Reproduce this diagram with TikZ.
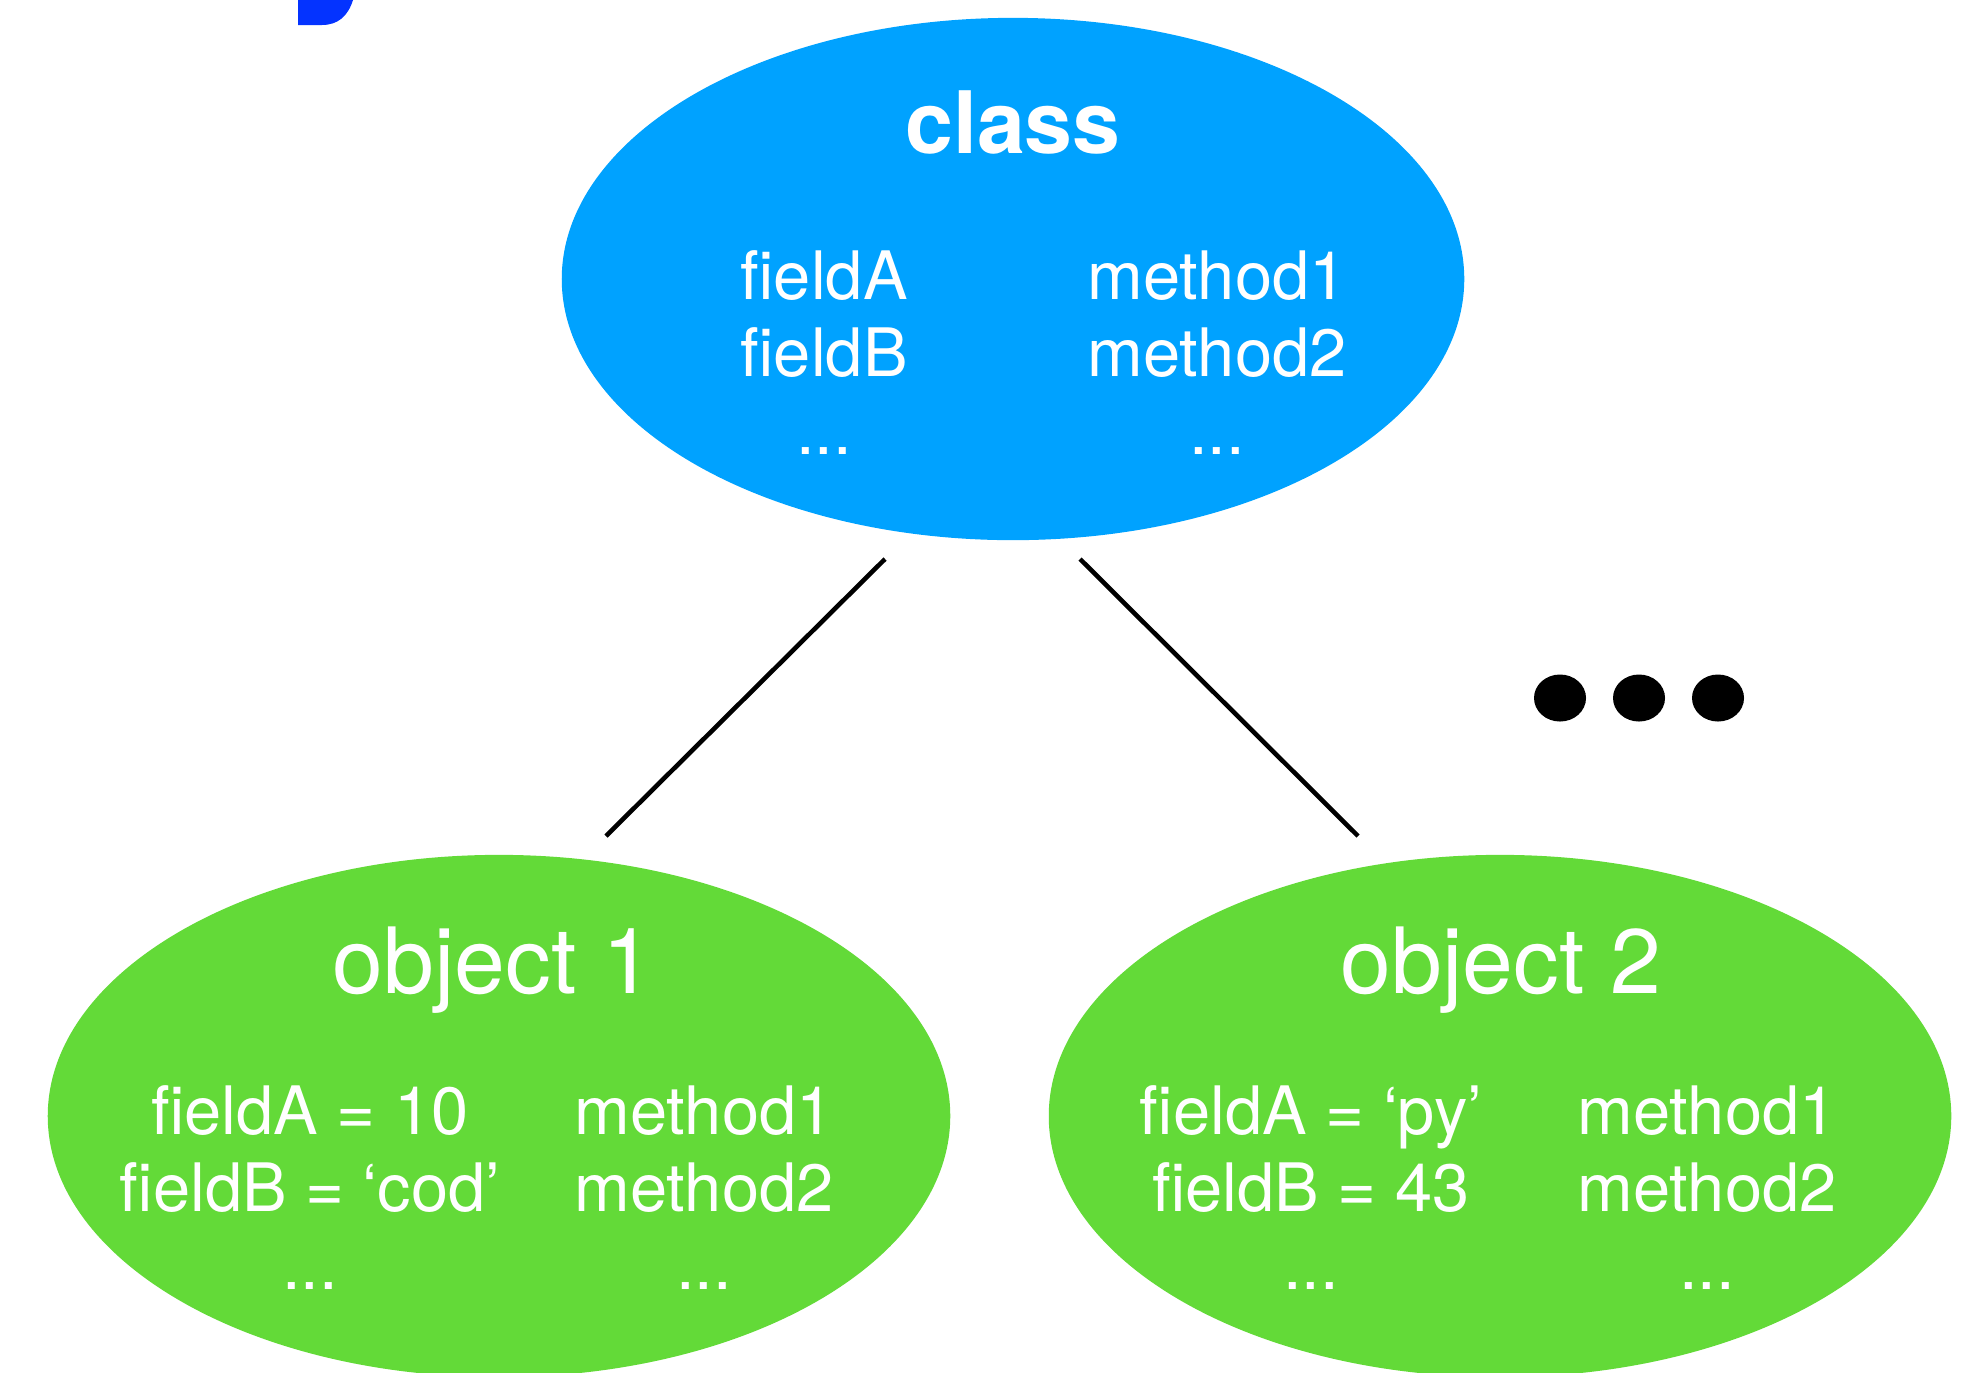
\documentclass[tikz,border=0pt]{standalone}
\usepackage{fontspec}
\setmainfont{TeX Gyre Heros}
\usetikzlibrary{shapes.geometric}
\definecolor{classblue}{HTML}{00A2FF}
\definecolor{objgreen}{HTML}{63DA38}
\definecolor{headblue}{HTML}{0433FF}
\begin{document}
\begin{tikzpicture}[x=0.01cm,y=-0.01cm,
  blob/.style={ellipse,draw=none,minimum width=9.02cm,minimum height=5.22cm,inner sep=0pt},
  title/.style={text=white,inner sep=0pt,anchor=base,font=\fontsize{26}{30}\selectfont},
  members/.style={text=white,inner sep=0pt,anchor=base,align=center,font=\fontsize{19}{22}\selectfont},
  link/.style={line width=1.3pt},
  more/.style={ellipse,fill=black,minimum width=0.52cm,minimum height=0.47cm,inner sep=0pt}]
 \useasboundingbox (0,0) rectangle (1973,1372);
 \clip (0,0) rectangle (1973,1372);
 % tail of the heading above
 \fill[headblue] (298,0) -- (298,25) -- (322,25)
   .. controls (338,25) and (348,16) .. (353,0) -- cycle;
 % the class and its two objects
 \node[blob,fill=classblue] (cls) at (1013,279) {};
 \node[blob,fill=objgreen] (obj1) at (499,1116) {};
 \node[blob,fill=objgreen] (obj2) at (1500,1116) {};
 % member lists sit on the baseline of their last line
 \node[title,font=\bfseries\fontsize{24.5}{28}\selectfont] (clsname) at (1013,153) {class};
 \node[members] (clsfields) at (824,454) {fieldA\\fieldB\\...};
 \node[members] (clsmethods) at (1217,454) {method1\\method2\\...};
 \node[title] (obj1name) at (493,993) {object 1};
 \node[members] (obj1fields) at (310,1289) {fieldA = 10\\fieldB = ‘cod’\\...};
 \node[members] (obj1methods) at (704,1289) {method1\\method2\\...};
 \node[title] (obj2name) at (1501,993) {object 2};
 \node[members] (obj2fields) at (1311,1289) {fieldA = ‘py’\\fieldB = 43\\...};
 \node[members] (obj2methods) at (1707,1289) {method1\\method2\\...};
 % links
 \coordinate (cl) at (885,559);
 \coordinate (cr) at (1080,559);
 \coordinate (o1) at (606,836);
 \coordinate (o2) at (1358,836);
 \draw[link] (cl) -- (o1);
 \draw[link] (cr) -- (o2);
 % and so on
 \foreach \i/\x in {1/1560,2/1639,3/1718}
   \node[more] (dot\i) at (\x,698) {};
\end{tikzpicture}
\end{document}
